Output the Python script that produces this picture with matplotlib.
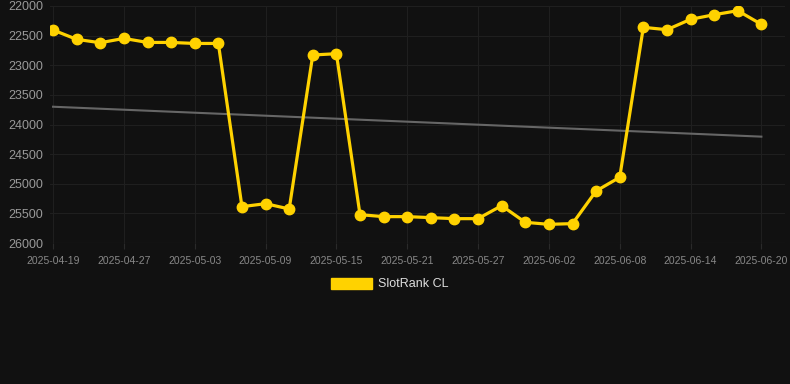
import matplotlib.pyplot as plt
from matplotlib.patches import Patch

plt.rcParams['font.family'] = ['Liberation Sans', 'DejaVu Sans']

# category dates (labels shown every 3rd point)
dates = ['2025-04-19', '2025-04-22', '2025-04-25', '2025-04-27', '2025-04-29', '2025-05-01',
         '2025-05-03', '2025-05-05', '2025-05-07', '2025-05-09', '2025-05-11', '2025-05-13',
         '2025-05-15', '2025-05-17', '2025-05-19', '2025-05-21', '2025-05-23', '2025-05-25',
         '2025-05-27', '2025-05-29', '2025-05-31', '2025-06-02', '2025-06-04', '2025-06-06',
         '2025-06-08', '2025-06-10', '2025-06-12', '2025-06-14', '2025-06-16', '2025-06-18',
         '2025-06-20']
rank = [22405, 22563, 22620, 22547, 22615, 22615, 22632, 22632, 25387, 25336, 25426,
        22827, 22805, 25522, 25555, 25555, 25572, 25589, 25589, 25370, 25651, 25685,
        25673, 25122, 24891, 22360, 22400, 22225, 22147, 22079, 22310]
trend = [23700, 24205]  # start / end of the grey trend line

bg = '#111111'
fig = plt.figure(figsize=(7.9, 3.84), dpi=100, facecolor=bg)
ax = fig.add_axes([50/790, 1-243/384, (785-50)/790, (243-6)/384], facecolor=bg)

x = list(range(len(rank)))
ax.plot([x[0], x[-1]], trend, color='#666666', lw=1.5, zorder=2)
ax.plot(x, rank, color='#FFD200', lw=2.3, marker='o', ms=7.5, zorder=3)

ax.set_ylim(26000, 22000)
ax.set_xlim(-0.13, 31)
ax.set_yticks(range(22000, 26001, 500))
ax.set_xticks(x[::3])
ax.set_xticklabels(dates[::3])

ax.grid(True, color='#1f1f1f', lw=0.8)
for s in ax.spines.values():
    s.set_visible(False)
ax.axhline(26000, color='#2a2a2a', lw=0.8, zorder=1)
ax.tick_params(axis='y', length=0, colors='#999999', labelsize=9, pad=5)
ax.tick_params(axis='x', length=4, color='#2a2a2a', colors='#888888', labelsize=7.5, pad=5)

fig.legend(handles=[Patch(color='#FFD200', label='SlotRank CL')], loc='center',
           bbox_to_anchor=(390/790, 1-284/384), frameon=False, labelcolor='#dddddd',
           fontsize=9, handlelength=3.3, handleheight=1.0, handletextpad=0.5)

fig.savefig('out.png', dpi=100, facecolor=bg)
